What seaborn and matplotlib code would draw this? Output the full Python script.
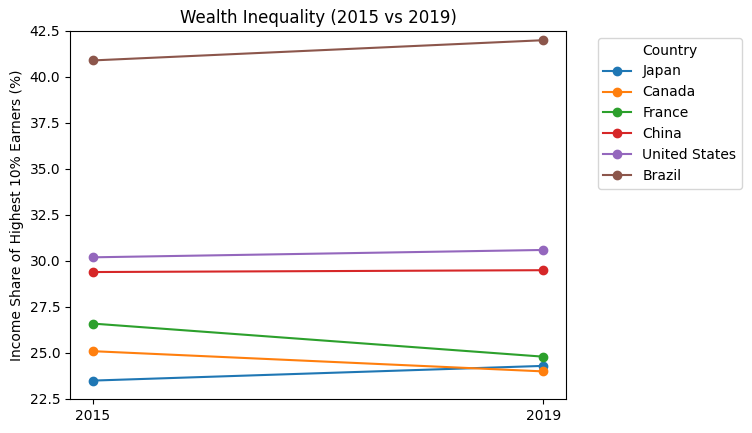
import matplotlib
matplotlib.use("Agg")
import matplotlib.pyplot as plt
import seaborn as sns
import pandas as pd

countries = ["Japan", "Canada", "France", "China", "United States", "Brazil"]
years = [2015, 2019]
share_2015 = [23.5, 25.1, 26.6, 29.4, 30.2, 40.9]
share_2019 = [24.3, 24.0, 24.8, 29.5, 30.6, 42.0]

rows = []
for c, a, b in zip(countries, share_2015, share_2019):
    rows.append({"Country": c, "Year": years[0], "Share": a})
    rows.append({"Country": c, "Year": years[1], "Share": b})
df = pd.DataFrame(rows)

fig = plt.figure(figsize=(7.52, 4.33), dpi=100)
ax = fig.add_axes([70/752, 1-399/433, (566-70)/752, (399-31)/433])
sns.lineplot(data=df, x="Year", y="Share", hue="Country", hue_order=countries,
             marker="o", markeredgecolor="auto", markeredgewidth=1, markersize=6,
             palette="tab10", ax=ax)
ax.set_xticks(years)
ax.set_xticklabels([str(y) for y in years])
ax.set_ylim(22.5, 42.5)
ax.set_xlabel("")
ax.set_ylabel("Income Share of Highest 10% Earners (%)")
ax.set_title("Wealth Inequality (2015 vs 2019)")
ax.legend(title="Country", bbox_to_anchor=(1.05, 1), loc="upper left")
fig.savefig("out.png", dpi=100)
